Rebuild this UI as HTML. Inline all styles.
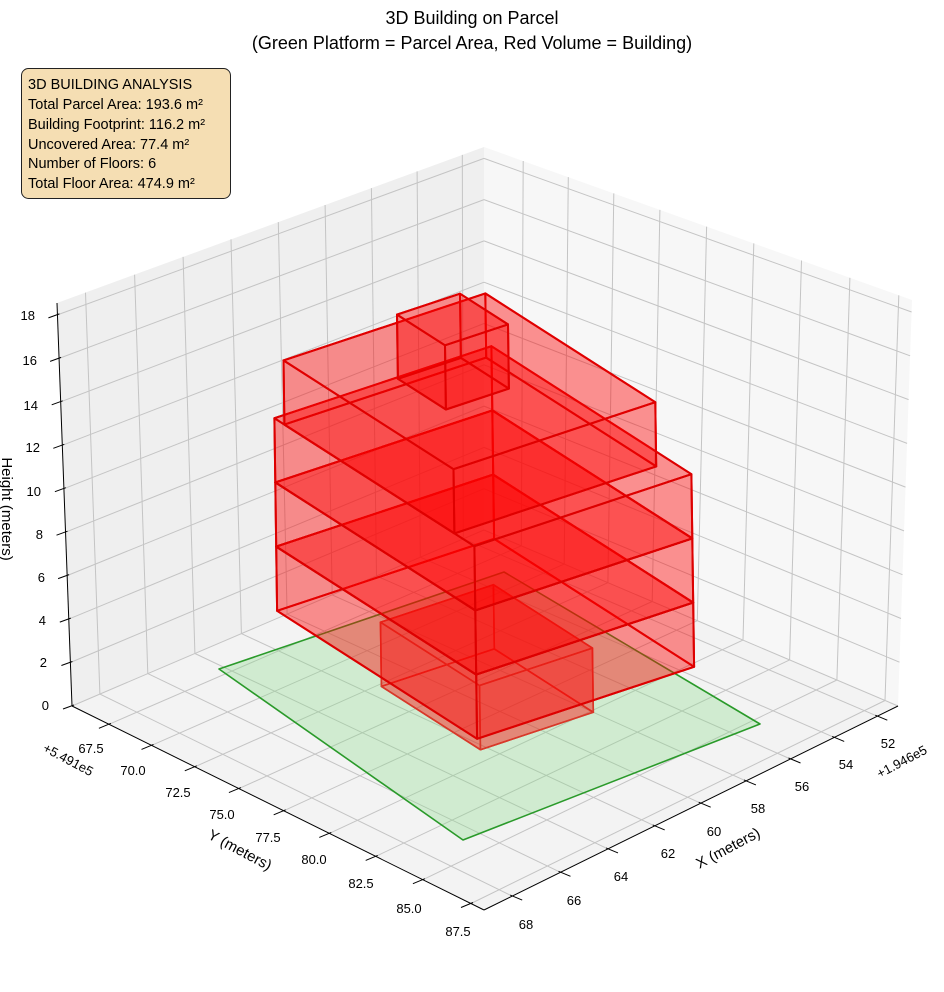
<!DOCTYPE html>
<html><head><meta charset="utf-8">
<style>
html,body{margin:0;padding:0;background:#fff;}
svg{display:block;font-family:"Liberation Sans","DejaVu Sans",sans-serif;}
</style></head>
<body>
<svg id="s" width="944" height="992" viewBox="0 0 944 992" xmlns="http://www.w3.org/2000/svg">
<g id="panes"></g>
<g id="grid"></g>
<g id="parcel"></g>
<g id="bldg"></g>
<g id="axes"></g>
<g font-size="18" fill="#000" text-anchor="middle">
<text x="472" y="24">3D Building on Parcel</text>
<text x="472" y="49">(Green Platform = Parcel Area, Red Volume = Building)</text>
</g>
<rect x="21.5" y="68.5" width="209" height="130" rx="7" ry="7" fill="#f5deb3" stroke="#222" stroke-width="1"/>
<g font-size="14.5" fill="#000">
<text x="28" y="89">3D BUILDING ANALYSIS</text>
<text x="28" y="109">Total Parcel Area: 193.6 m²</text>
<text x="28" y="129">Building Footprint: 116.2 m²</text>
<text x="28" y="149">Uncovered Area: 77.4 m²</text>
<text x="28" y="168">Number of Floors: 6</text>
<text x="28" y="188">Total Floor Area: 474.9 m²</text>
</g>
<g font-size="13" fill="#000" text-anchor="end">
<text x="49" y="710">0</text>
<text x="47" y="667">2</text>
<text x="46" y="625">4</text>
<text x="45" y="582">6</text>
<text x="43" y="539">8</text>
<text x="41" y="496">10</text>
<text x="40" y="452">12</text>
<text x="38" y="410">14</text>
<text x="37" y="365">16</text>
<text x="35" y="320">18</text>
</g>
<g font-size="13" fill="#000" text-anchor="middle">
<text x="91" y="753">67.5</text>
<text x="133" y="775">70.0</text>
<text x="178" y="797">72.5</text>
<text x="222" y="819">75.0</text>
<text x="268" y="842">77.5</text>
<text x="314" y="864">80.0</text>
<text x="361" y="888">82.5</text>
<text x="409" y="913">85.0</text>
<text x="458" y="936">87.5</text>
<text x="888" y="748">52</text>
<text x="846" y="769">54</text>
<text x="802" y="791">56</text>
<text x="758" y="813">58</text>
<text x="714" y="836">60</text>
<text x="668" y="858">62</text>
<text x="621" y="881">64</text>
<text x="574" y="905">66</text>
<text x="526" y="929">68</text>
</g>
<text x="68" y="764" font-size="13" text-anchor="middle" transform="rotate(28 68 760)">+5.491e5</text>
<text x="902" y="766" font-size="13" text-anchor="middle" transform="rotate(-28 902 762)">+1.946e5</text>
<text x="240" y="855" font-size="15" text-anchor="middle" transform="rotate(28 240 850)">Y (meters)</text>
<text x="728" y="853" font-size="15" text-anchor="middle" transform="rotate(-28 728 848)">X (meters)</text>
<text x="7" y="514" font-size="15" text-anchor="middle" transform="rotate(90 7 509)">Height (meters)</text>
</svg>
<script>
(function(){
var NS="http://www.w3.org/2000/svg";
function el(p,tag,at){var e=document.createElementNS(NS,tag);for(var k in at)e.setAttribute(k,at[k]);document.getElementById(p).appendChild(e);return e;}
function homo(q){
 var x0=q[0][0],y0=q[0][1],x1=q[1][0],y1=q[1][1],x2=q[2][0],y2=q[2][1],x3=q[3][0],y3=q[3][1];
 var dx1=x1-x2,dx2=x3-x2,dx3=x0-x1+x2-x3,dy1=y1-y2,dy2=y3-y2,dy3=y0-y1+y2-y3;
 var den=dx1*dy2-dx2*dy1;
 var g=(dx3*dy2-dx2*dy3)/den,h=(dx1*dy3-dx3*dy1)/den;
 var a=x1-x0+g*x1,b=x3-x0+h*x3,c=x0,d=y1-y0+g*y1,e=y3-y0+h*y3,f=y0;
 return function(u,v){var w=g*u+h*v+1;return [(a*u+b*v+c)/w,(d*u+e*v+f)/w];};
}
var F=homo([[72,706],[484,910],[898,706],[484,530]]);
var T=homo([[57,303],[485,474],[912,300],[484,147]]);
var Xmin=51.03,Xmax=69.15,Ymin=65.3,Ymax=88.17,Zmax=18.55;
function P(X,Y,z){var u=(Y-Ymin)/(Ymax-Ymin),v=(Xmax-X)/(Xmax-Xmin);var a=F(u,v),b=T(u,v),t=z/Zmax;return [a[0]+(b[0]-a[0])*t,a[1]+(b[1]-a[1])*t];}
function pts(arr){return arr.map(function(p){return p[0].toFixed(1)+","+p[1].toFixed(1);}).join(" ");}
el("panes","polygon",{points:pts([P(Xmax,Ymin,0),P(Xmin,Ymin,0),P(Xmin,Ymin,Zmax),P(Xmax,Ymin,Zmax)]),fill:"#efefef"});
el("panes","polygon",{points:pts([P(Xmin,Ymin,0),P(Xmin,Ymax,0),P(Xmin,Ymax,Zmax),P(Xmin,Ymin,Zmax)]),fill:"#f7f7f7"});
el("panes","polygon",{points:pts([P(Xmax,Ymin,0),P(Xmax,Ymax,0),P(Xmin,Ymax,0),P(Xmin,Ymin,0)]),fill:"#f3f3f3"});
function line(g,p,q,st,w){el(g,"line",{x1:p[0].toFixed(1),y1:p[1].toFixed(1),x2:q[0].toFixed(1),y2:q[1].toFixed(1),stroke:st,"stroke-width":w});}
var gc="#c4c4c4";
for(var Y=67.5;Y<=87.5+1e-6;Y+=2.5){line("grid",P(Xmax,Y,0),P(Xmin,Y,0),gc,1);line("grid",P(Xmin,Y,0),P(Xmin,Y,Zmax),gc,1);}
for(var X=52;X<=68;X+=2){line("grid",P(X,Ymin,0),P(X,Ymax,0),gc,1);line("grid",P(X,Ymin,0),P(X,Ymin,Zmax),gc,1);}
for(var z=0;z<=18;z+=2){line("grid",P(Xmax,Ymin,z),P(Xmin,Ymin,z),gc,1);line("grid",P(Xmin,Ymin,z),P(Xmin,Ymax,z),gc,1);}
line("axes",P(Xmax,Ymin,0),P(Xmax,Ymin,Zmax),"#000",1);
line("axes",P(Xmax,Ymin,0),P(Xmax,Ymax,0),"#000",1);
line("axes",P(Xmax,Ymax,0),P(Xmin,Ymax,0),"#000",1);
for(var z=0;z<=18;z+=2){var p=P(Xmax,Ymin,z);line("axes",[p[0]-9,p[1]+3],[p[0]+2,p[1]-1],"#000",1);}
for(var Y=67.5;Y<=87.5+1e-6;Y+=2.5){var p=P(Xmax,Y,0);line("axes",[p[0]-10,p[1]+4],[p[0]+2,p[1]-1],"#000",1);}
for(var X=52;X<=68;X+=2){var p=P(X,Ymax,0);line("axes",[p[0]-2,p[1]-1],[p[0]+10,p[1]+4],"#000",1);}
el("parcel","polygon",{points:"219,669 504,572 760,724 463,840",fill:"rgba(130,220,130,0.3)",stroke:"#2a9a2a","stroke-width":1.6,"stroke-linejoin":"round"});
function B(a,b,z){return [278+217*a+200*b-0.3*z,675-72*a+128*b-21.4*z];}
function box(a0,a1,b0,b1,z0,z1,stroke,w){
 var c=function(a,b,z){return B(a,b,z);};
 var faces=[
  [c(a0,b0,z0),c(a1,b0,z0),c(a1,b1,z0),c(a0,b1,z0)],
  [c(a0,b0,z0),c(a1,b0,z0),c(a1,b0,z1),c(a0,b0,z1)],
  [c(a1,b0,z0),c(a1,b1,z0),c(a1,b1,z1),c(a1,b0,z1)],
  [c(a0,b0,z0),c(a0,b1,z0),c(a0,b1,z1),c(a0,b0,z1)],
  [c(a0,b1,z0),c(a1,b1,z0),c(a1,b1,z1),c(a0,b1,z1)],
  [c(a0,b0,z1),c(a1,b0,z1),c(a1,b1,z1),c(a0,b1,z1)]
 ];
 faces.forEach(function(f){el("bldg","polygon",{points:pts(f),fill:"rgba(255,0,0,0.24)",stroke:stroke,"stroke-width":w,"stroke-linejoin":"round"});});
}
box(0.26,0.78,0.235,0.73,0,3,"#d8392a",1.6);
box(0,1,0,1,3,6,"#dd0000",2);
box(0,1,0,1,6,9,"#dd0000",2);
box(0,1,0,1,9,12,"#dd0000",2);
box(0,0.93,0.05,0.9,12,15,"#e00000",2);
box(0.26,0.55,0.34,0.58,15,18,"#e00000",2);
})();
</script>
</body></html>
